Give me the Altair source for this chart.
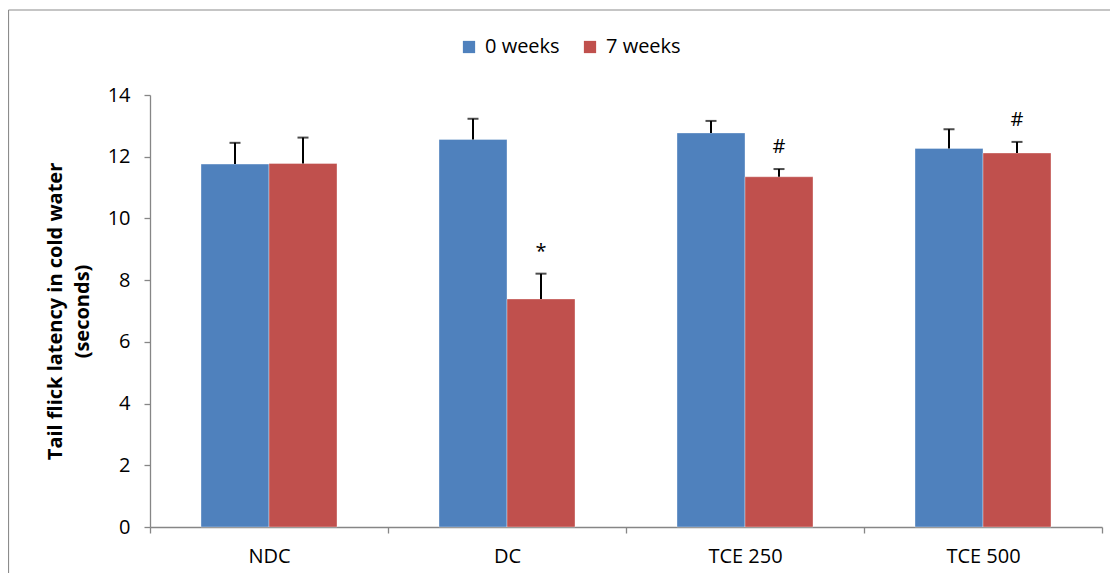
import altair as alt
import pandas as pd

groups = ["NDC", "DC", "TCE 250", "TCE 500"]
series = ["0 weeks", "7 weeks"]
weeks_0 = [11.76, 12.56, 12.77, 12.27]
weeks_0_err = [0.69, 0.67, 0.39, 0.62]
weeks_7 = [11.78, 7.39, 11.35, 12.12]
weeks_7_err = [0.84, 0.82, 0.25, 0.36]
marks_7 = ["", "*", "#", "#"]
colors = ["#4F81BD", "#C0504D"]

rows = []
for i, g in enumerate(groups):
    rows.append({"group": g, "series": series[0], "value": weeks_0[i],
                 "top": weeks_0[i] + weeks_0_err[i], "mark": ""})
    rows.append({"group": g, "series": series[1], "value": weeks_7[i],
                 "top": weeks_7[i] + weeks_7_err[i], "mark": marks_7[i]})
df = pd.DataFrame(rows)

FONT = "Open Sans"

x_enc = alt.X("group:N", sort=groups, title=None,
              scale=alt.Scale(paddingInner=0, paddingOuter=0),
              axis=alt.Axis(labelAngle=0, tickBand="extent", labelPadding=13,
                            labelFontSize=20, tickSize=6))
xo_enc = alt.XOffset("series:N", sort=series,
                     scale=alt.Scale(paddingInner=0, paddingOuter=0.75))

base = alt.Chart(df)

bars = base.mark_bar(stroke="#ffffff", strokeOpacity=0.35, strokeWidth=1).encode(
    x=x_enc,
    xOffset=xo_enc,
    y=alt.Y("value:Q", scale=alt.Scale(domain=[0, 14]),
            title=["Tail flick latency in cold water", "(seconds)"],
            axis=alt.Axis(values=[0, 2, 4, 6, 8, 10, 12, 14], grid=False, tickSize=6,
                          labelPadding=14, labelFontSize=20, titleFontSize=20,
                          titleFontWeight="bold", titlePadding=15, titleLineHeight=27)),
    color=alt.Color("series:N", sort=series,
                    scale=alt.Scale(domain=series, range=colors),
                    legend=alt.Legend(title=None, orient="none", legendX=309, legendY=-58,
                                      direction="horizontal", symbolType="square",
                                      symbolSize=150, symbolStrokeWidth=0,
                                      labelFontSize=20, labelOffset=6, columnPadding=20)),
)

err = base.mark_rule(color="black", strokeWidth=2).encode(
    x=x_enc, xOffset=xo_enc, y="value:Q", y2="top:Q")

caps = base.mark_tick(color="black", thickness=2, size=11, orient="horizontal").encode(
    x=x_enc, xOffset=xo_enc, y="top:Q")

txt = base.mark_text(baseline="bottom", dy=-12, fontSize=20, font=FONT, color="black").encode(
    x=x_enc, xOffset=xo_enc, y="top:Q", text="mark:N")

frame_data = alt.Data(values=[{"k": 1}])
frame_left = alt.Chart(frame_data).mark_rule(color="#8c8c8c", strokeWidth=1.2).encode(
    x=alt.value(-141.5), y=alt.value(-85), y2=alt.value(480))
frame_top = alt.Chart(frame_data).mark_rule(color="#8c8c8c", strokeWidth=1.2).encode(
    x=alt.value(-141.5), x2=alt.value(960), y=alt.value(-85))

chart = alt.layer(bars, err, caps, txt, frame_left, frame_top).properties(
    width=952, height=432,
    autosize=alt.AutoSizeParams(type="none"),
    padding={"left": 142, "top": 87, "right": 8, "bottom": 46},
).configure_view(strokeWidth=0).configure_axis(
    domainColor="#868686", tickColor="#868686", labelColor="black", titleColor="black",
    labelFont=FONT, titleFont=FONT, domainWidth=1.3, tickWidth=1.3,
).configure_legend(labelFont=FONT, labelColor="black").configure_text(font=FONT)

chart.save("out.html", embed_options={"renderer": "svg", "actions": False})
